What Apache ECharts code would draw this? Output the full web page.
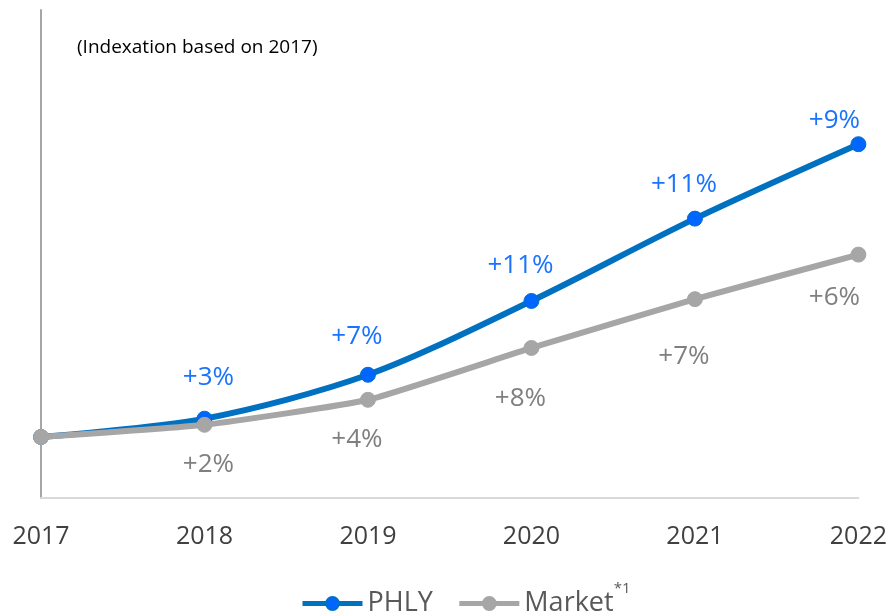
<!DOCTYPE html>
<html><head><meta charset="utf-8">
<script src="https://cdn.jsdelivr.net/npm/echarts@6/dist/echarts.min.js"></script>
<style>html,body{margin:0;padding:0;background:#fff}#c{width:890px;height:613px}</style>
</head><body><div id="c"></div>
<script>
const years = ['2017','2018','2019','2020','2021','2022'];
const phlyIndex = [100, 103, 110.2, 122.3, 135.8, 148.0];
const marketIndex = [100, 102, 106.1, 114.6, 122.6, 129.9];
const phlyGrowth = ['', '+3%', '+7%', '+11%', '+11%', '+9%'];
const marketGrowth = ['', '+2%', '+4%', '+8%', '+7%', '+6%'];

const phlyOffsets = [[0,0],[4,-41],[-11,-38],[-11,-35],[-11,-34],[-24,-24]];
const marketOffsets = [[0,0],[4,40],[-11,40],[-11,51],[-11,57],[-24,43]];

function buildData(vals, growth, offs, color) {
  return vals.map((v, i) => ({
    value: v,
    label: {
      show: growth[i] !== '',
      position: 'inside',
      offset: offs[i],
      formatter: growth[i],
      color: color,
      fontSize: 26,
      fontFamily: 'Open Sans'
    }
  }));
}

const chart = echarts.init(document.getElementById('c'));
chart.setOption({
  animation: false,
  title: {
    text: '(Indexation based on 2017)',
    left: 72, top: 33,
    textStyle: { fontSize: 19, fontWeight: 'normal', color: '#000', fontFamily: 'Open Sans' }
  },
  grid: { left: 41, right: 30, top: 10, bottom: 115 },
  legend: {
    top: 576, left: 295,
    itemWidth: 60, itemHeight: 16, itemGap: 24,
    lineStyle: { width: 5 },
    textStyle: {
      fontSize: 27, color: '#595959', fontFamily: 'Open Sans',
      rich: {
        a: { fontSize: 27, color: '#595959', fontFamily: 'Open Sans' },
        s: { fontSize: 15, color: '#595959', fontFamily: 'Open Sans', padding: [0,0,30,0] }
      }
    },
    formatter: function (name) {
      return name === 'Market' ? '{a|Market}{s|*1}' : name;
    },
    data: ['PHLY', 'Market']
  },
  xAxis: {
    type: 'category', data: years, boundaryGap: false,
    axisLine: { lineStyle: { color: '#D9D9D9', width: 2 } },
    axisTick: { show: false },
    axisLabel: { fontSize: 25, color: '#404040', margin: 26, fontFamily: 'Open Sans' }
  },
  yAxis: {
    type: 'value', min: 90, max: 170,
    axisLine: { show: true, lineStyle: { color: '#A6A6A6', width: 2 } },
    axisTick: { show: false }, axisLabel: { show: false }, splitLine: { show: false }
  },
  series: [
    {
      name: 'PHLY', type: 'line', smooth: 0.3, z: 2,
      data: buildData(phlyIndex, phlyGrowth, phlyOffsets, '#1A73FF'),
      lineStyle: { color: '#0070C0', width: 6 },
      itemStyle: { color: '#0066FF', borderColor: '#0070C0', borderWidth: 1 },
      symbol: 'circle', symbolSize: 15
    },
    {
      name: 'Market', type: 'line', smooth: 0.15, z: 3,
      data: buildData(marketIndex, marketGrowth, marketOffsets, '#7F7F7F'),
      lineStyle: { color: '#A6A6A6', width: 6 },
      itemStyle: { color: '#A6A6A6', borderColor: '#A6A6A6', borderWidth: 1 },
      symbol: 'circle', symbolSize: 15
    }
  ]
});
</script></body></html>
